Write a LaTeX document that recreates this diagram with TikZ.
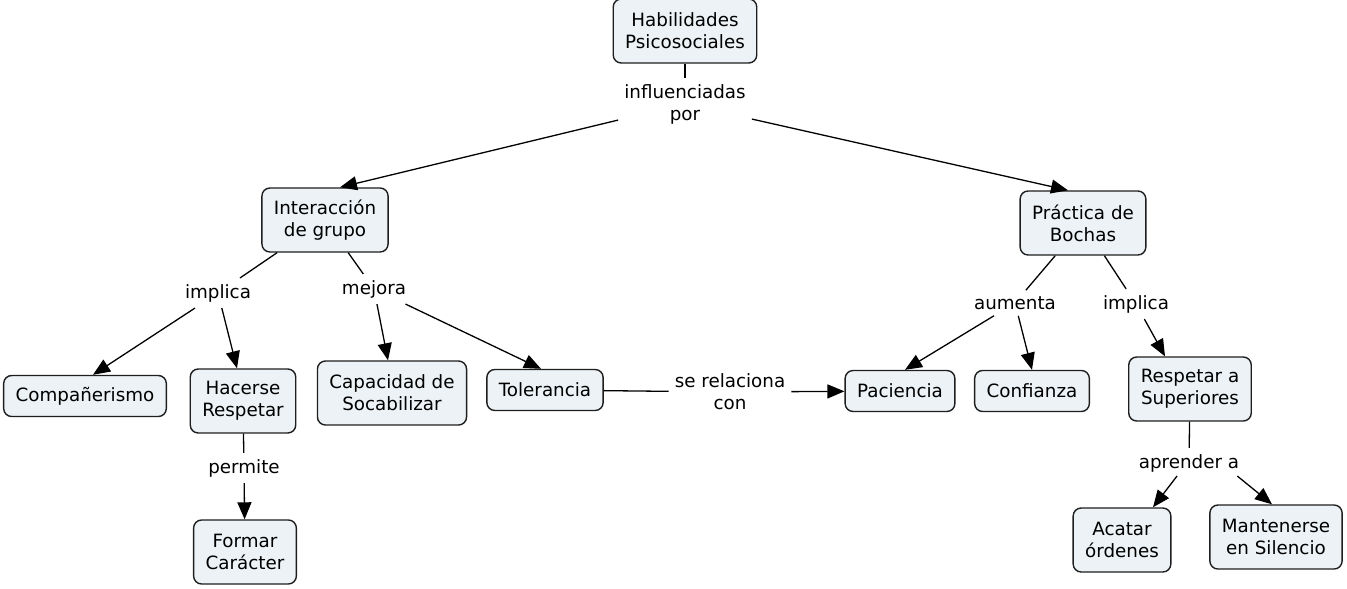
\documentclass[tikz,border=0pt]{standalone}
\usepackage{fontspec}
\setmainfont{DejaVu Sans}
\usetikzlibrary{arrows.meta}
\definecolor{boxfill}{RGB}{236,242,245}
\definecolor{boxline}{RGB}{30,30,30}
\tikzset{
  concept/.style={draw=boxline, line width=1.4pt, fill=boxfill, rounded corners=8pt,
    align=center, inner xsep=12pt, inner ysep=3pt, minimum height=41pt,
    font=\fontsize{18.3}{22}\selectfont},
  two/.style={minimum height=64pt},
  linklabel/.style={align=center, inner sep=6pt, font=\fontsize{18.3}{22}\selectfont},
  conn/.style={line width=1.3pt, black},
  arr/.style={conn, -{Triangle[length=17pt,width=14pt]}}
}
\begin{document}
\begin{tikzpicture}[x=1pt,y=-1pt]
\useasboundingbox (0,0) rectangle (1347,589);
% concepts
\node[concept,two] (hab) at (685,31) {Habilidades\\Psicosociales};
\node[concept,two] (inter) at (325,220) {Interacción\\de grupo};
\node[concept,two] (prac) at (1083,223) {Práctica de\\Bochas};
\node[concept] (comp) at (85,396) {Compañerismo};
\node[concept,two] (hac) at (243,401) {Hacerse\\Respetar};
\node[concept,two] (cap) at (392,393) {Capacidad de\\Socabilizar};
\node[concept] (tol) at (545,390) {Tolerancia};
\node[concept,two] (form) at (245,552) {Formar\\Carácter};
\node[concept] (pac) at (900,391) {Paciencia};
\node[concept] (conf) at (1032,391) {Confianza};
\node[concept,two] (resp) at (1190,389) {Respetar a\\Superiores};
\node[concept,two] (acat) at (1122,540) {Acatar\\órdenes};
\node[concept,two] (mant) at (1276,537) {Mantenerse\\en Silencio};
% link labels
\node[linklabel] (infl) at (685,104) {influenciadas\\por};
\node[linklabel] (implL) at (218,293) {implica};
\node[linklabel] (mej) at (374,289) {mejora};
\node[linklabel] (perm) at (244,468) {permite};
\node[linklabel] (serel) at (730,392) {se relaciona\\con};
\node[linklabel] (aum) at (1015,303) {aumenta};
\node[linklabel] (implR) at (1136,304) {implica};
\node[linklabel] (apr) at (1189,463) {aprender a};
% connectors
\draw[conn] (hab) -- (infl);
\draw[arr] (infl) -- ([xshift=15pt]inter.north);
\draw[arr] (infl) -- ([xshift=-15pt]prac.north);
\draw[conn] (inter) -- (implL);
\draw[arr] (implL) -- ([xshift=8pt]comp.north);
\draw[arr] (implL) -- ([xshift=-6pt]hac.north);
\draw[conn] (inter) -- (mej);
\draw[arr] (mej) -- ([xshift=-4pt]cap.north);
\draw[arr] (mej) -- ([xshift=-4pt]tol.north);
\draw[conn] (hac) -- (perm);
\draw[arr] (perm) -- (form);
\draw[conn] (tol) -- (serel);
\draw[arr] (serel) -- (pac);
\draw[conn] (prac) -- (aum);
\draw[arr] (aum) -- ([xshift=5pt]pac.north);
\draw[arr] (aum) -- (conf.north);
\draw[conn] (prac) -- (implR);
\draw[arr] (implR) -- ([xshift=-25pt]resp.north);
\draw[conn] (resp) -- (apr);
\draw[arr] ([xshift=-12pt,yshift=2pt]apr.south) -- ([xshift=31pt]acat.north);
\draw[arr] ([xshift=-8pt,yshift=2pt]apr.south east) -- ([xshift=-4pt]mant.north);
\end{tikzpicture}
\end{document}
